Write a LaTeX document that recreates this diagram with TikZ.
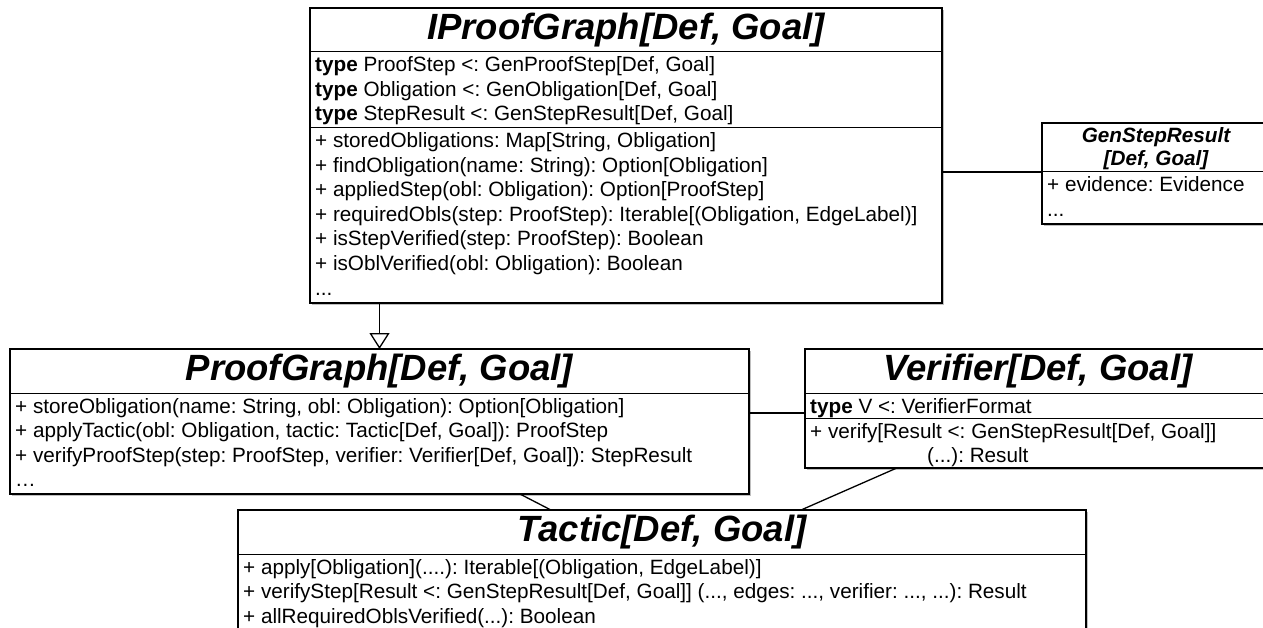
\documentclass[tikz,border=0pt]{standalone}
\usepackage{fontspec}
\setmainfont{Liberation Sans}
\usetikzlibrary{arrows.meta,shadows,calc}
\frenchspacing
\tikzset{
  umlbox/.style={draw=black, line width=1.3pt, fill=white, inner sep=0pt, outer sep=0pt, anchor=north west,
    drop shadow={shadow xshift=2pt, shadow yshift=-2pt, opacity=0.25, fill=black}},
  sepline/.style={draw=black, line width=1pt},
  titletext/.style={inner sep=0pt, anchor=base, font=\fontsize{36.5pt}{40pt}\selectfont\bfseries\itshape},
  subtitle/.style={inner sep=0pt, anchor=base, font=\fontsize{20.7pt}{24pt}\selectfont\bfseries\itshape},
  rowtext/.style={inner sep=0pt, anchor=base west, font=\fontsize{20.7pt}{24pt}\selectfont},
  assoc/.style={draw=black, line width=1.3pt},
  inherit/.style={draw=black, line width=1.3pt, -{Triangle[open, width=20pt, length=16pt]}},
}
\begin{document}
\frenchspacing
\begin{tikzpicture}[x=1pt, y=-1pt]
\useasboundingbox (0,0) rectangle (1263,628);
\clip (0,0) rectangle (1263,628);

% ---------- IProofGraph ----------
\node[umlbox, minimum width=632pt, minimum height=295pt] (ipg) at (310,8) {};
\draw[sepline] ([yshift=-44pt]ipg.north west) -- ([yshift=-44pt]ipg.north east);
\draw[sepline] ([yshift=-120pt]ipg.north west) -- ([yshift=-120pt]ipg.north east);
\node[titletext] (ipgT) at (626,39.5) {IProofGraph[Def, Goal]};
\node[rowtext] (ipg1) at (315,72) {{\bfseries type} ProofStep <: GenProofStep[Def, Goal]};
\node[rowtext] (ipg2) at (315,96.5) {{\bfseries type} Obligation <: GenObligation[Def, Goal]};
\node[rowtext] (ipg3) at (315,121) {{\bfseries type} StepResult <: GenStepResult[Def, Goal]};
\node[rowtext] (ipg4) at (315,148) {+ storedObligations: Map[String, Obligation]};
\node[rowtext] (ipg5) at (315,172.5) {+ findObligation(name: String): Option[Obligation]};
\node[rowtext] (ipg6) at (315,197) {+ appliedStep(obl: Obligation): Option[ProofStep]};
\node[rowtext] (ipg7) at (315,221.5) {+ requiredObls(step: ProofStep): Iterable[(Obligation, EdgeLabel)]};
\node[rowtext] (ipg8) at (315,246) {+ isStepVerified(step: ProofStep): Boolean};
\node[rowtext] (ipg9) at (315,270.5) {+ isOblVerified(obl: Obligation): Boolean};
\node[rowtext] (ipg10) at (315,295) {...};

% ---------- GenStepResult ----------
\node[umlbox, minimum width=228pt, minimum height=101pt] (gsr) at (1042,123) {};
\draw[sepline] ([yshift=-49pt]gsr.north west) -- ([yshift=-49pt]gsr.north east);
\node[subtitle] (gsrT1) at (1156,142.5) {GenStepResult};
\node[subtitle] (gsrT2) at (1156,165.5) {[Def, Goal]};
\node[rowtext] (gsr1) at (1047,192) {+ evidence: Evidence};
\node[rowtext] (gsr2) at (1047,216.5) {...};

% ---------- ProofGraph ----------
\node[umlbox, minimum width=739pt, minimum height=145pt] (pg) at (10,349) {};
\draw[sepline] ([yshift=-44pt]pg.north west) -- ([yshift=-44pt]pg.north east);
\node[titletext] (pgT) at (379.5,380.5) {ProofGraph[Def, Goal]};
\node[rowtext] (pg1) at (15,413) {+ storeObligation(name: String, obl: Obligation): Option[Obligation]};
\node[rowtext] (pg2) at (15,437.5) {+ applyTactic(obl: Obligation, tactic: Tactic[Def, Goal]): ProofStep};
\node[rowtext] (pg3) at (15,462) {+ verifyProofStep(step: ProofStep, verifier: Verifier[Def, Goal]): StepResult};
\node[rowtext] (pg4) at (15,486.5) {…};

% ---------- Verifier ----------
\node[umlbox, minimum width=466pt, minimum height=119pt] (ver) at (805,349) {};
\draw[sepline] ([yshift=-44pt]ver.north west) -- ([yshift=-44pt]ver.north east);
\draw[sepline] ([yshift=-69pt]ver.north west) -- ([yshift=-69pt]ver.north east);
\node[titletext] (verT) at (1038,380.5) {Verifier[Def, Goal]};
\node[rowtext] (ver1) at (810,413) {{\bfseries type} V <: VerifierFormat};
\node[rowtext] (ver2) at (810,438) {+ verify[Result <: GenStepResult[Def, Goal]]};
\node[rowtext] (ver3) at (927,462.5) {(...): Result};

% ---------- Tactic ----------
\node[umlbox, minimum width=848pt, minimum height=140pt] (tac) at (238,510) {};
\draw[sepline] ([yshift=-44pt]tac.north west) -- ([yshift=-44pt]tac.north east);
\node[titletext] (tacT) at (662,541.5) {Tactic[Def, Goal]};
\node[rowtext] (tac1) at (243,574) {+ apply[Obligation](....): Iterable[(Obligation, EdgeLabel)]};
\node[rowtext] (tac2) at (243,598.5) {+ verifyStep[Result <: GenStepResult[Def, Goal]] (..., edges: ..., verifier: ..., ...): Result};
\node[rowtext] (tac3) at (243,623) {+ allRequiredOblsVerified(...): Boolean};

% ---------- Connectors ----------
\draw[inherit] (ipg.south -| pg.north) -- (pg.north);
\coordinate (gsrjoin) at ([yshift=-49pt]gsr.north west);
\draw[assoc] (ipg.east |- gsrjoin) -- (gsrjoin);
\coordinate (verjoin) at ([yshift=-64pt]ver.north west);
\draw[assoc, line width=2pt] (pg.east |- verjoin) -- (verjoin);
\draw[assoc] ($(pg.south west)!0.69!(pg.south east)$) -- ($(tac.north west)!0.369!(tac.north east)$);
\draw[assoc] ($(ver.south west)!0.197!(ver.south east)$) -- ($(tac.north west)!0.664!(tac.north east)$);
\end{tikzpicture}
\end{document}
